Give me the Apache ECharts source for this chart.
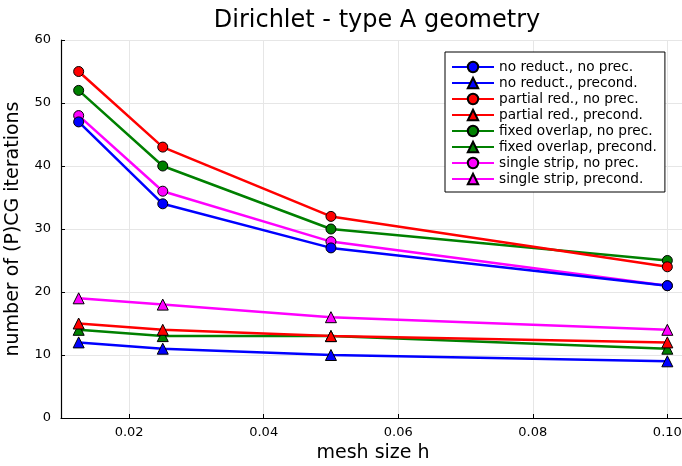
<!DOCTYPE html>
<html><head><meta charset="utf-8">
<script src="https://cdn.jsdelivr.net/npm/echarts@6/dist/echarts.min.js"></script>
<style>html,body{margin:0;padding:0;background:#fff;overflow:hidden}#c{width:682px;height:466px}</style>
</head><body><div id="c"></div>
<script>
const meshSizes = [0.0125, 0.025, 0.05, 0.1];
const xTicks = [0.02, 0.04, 0.06, 0.08, 0.10];
const seriesNames = ["no reduct., no prec.", "no reduct., precond.", "partial red., no prec.", "partial red., precond.", "fixed overlap, no prec.", "fixed overlap, precond.", "single strip, no prec.", "single strip, precond."];
const noReductNoPrec = [47, 34, 27, 21];
const noReductPrecond = [12, 11, 10, 9];
const partialNoPrec = [55, 43, 32, 24];
const partialPrecond = [15, 14, 13, 12];
const fixedNoPrec = [52, 40, 30, 25];
const fixedPrecond = [14, 13, 13, 11];
const stripNoPrec = [48, 36, 28, 21];
const stripPrecond = [19, 18, 16, 14];

const allValues = [noReductNoPrec, noReductPrecond, partialNoPrec, partialPrecond, fixedNoPrec, fixedPrecond, stripNoPrec, stripPrecond];
const colors = ["#0000ff", "#0000ff", "#ff0000", "#ff0000", "#008000", "#008000", "#ff00ff", "#ff00ff"];
const font = "DejaVu Sans";

const series = allValues.map((vals, i) => ({
  name: seriesNames[i],
  type: "line",
  data: vals.map((v, j) => [meshSizes[j], v]),
  symbol: i % 2 === 0 ? "circle" : "triangle",
  symbolSize: i % 2 === 0 ? 10 : 11,
  lineStyle: { color: colors[i], width: 2.5 },
  itemStyle: { color: colors[i], borderColor: "#000", borderWidth: 1 },
  emphasis: { disabled: true },
  z: 10 - i
}));

const chart = echarts.init(document.getElementById("c"), null, { renderer: "canvas" });
chart.setOption({
  animation: false,
  backgroundColor: "#fff",
  title: {
    text: "Dirichlet - type A geometry",
    left: 372, top: 4, textAlign: "center",
    textStyle: { fontFamily: font, fontWeight: "normal", fontSize: 24, color: "#000" }
  },
  grid: { left: 61, width: 624, top: 40, height: 378, containLabel: false, outerBoundsMode: "none" },
  legend: {
    orient: "vertical",
    left: 445, top: 52,
    width: 221,
    padding: [8, 8, 6, 6],
    itemGap: 2,
    itemWidth: 42, itemHeight: 13,
    backgroundColor: "#fff",
    borderColor: "#000", borderWidth: 1,
    textStyle: { fontFamily: font, fontSize: 13.7, color: "#000" },
    data: seriesNames
  },
  xAxis: {
    type: "value",
    min: 0.009875, max: 0.102625,
    name: "mesh size h",
    nameLocation: "middle", nameGap: 25,
    nameTextStyle: { fontFamily: font, fontSize: 19, color: "#000" },
    axisLine: { onZero: false, lineStyle: { color: "#000", width: 1.2 } },
    axisTick: { inside: true, length: 4, customValues: xTicks, lineStyle: { color: "#000" } },
    axisLabel: { customValues: xTicks, fontFamily: font, fontSize: 13, color: "#000", margin: 8,
      formatter: v => Number(v).toFixed(2) },
    splitLine: { show: true, lineStyle: { color: "#e6e6e6", width: 1 } }
  },
  yAxis: {
    type: "value",
    min: 0, max: 60, interval: 10,
    name: "number of (P)CG iterations",
    nameLocation: "middle", nameGap: 38,
    nameTextStyle: { fontFamily: font, fontSize: 19, color: "#000" },
    axisLine: { show: true, lineStyle: { color: "#000", width: 1.2 } },
    axisTick: { show: true, inside: true, length: 4, lineStyle: { color: "#000" } },
    axisLabel: { fontFamily: font, fontSize: 13, color: "#000", margin: 10 },
    splitLine: { show: true, lineStyle: { color: "#e6e6e6", width: 1 } }
  },
  series: series
});
</script>
</body></html>
